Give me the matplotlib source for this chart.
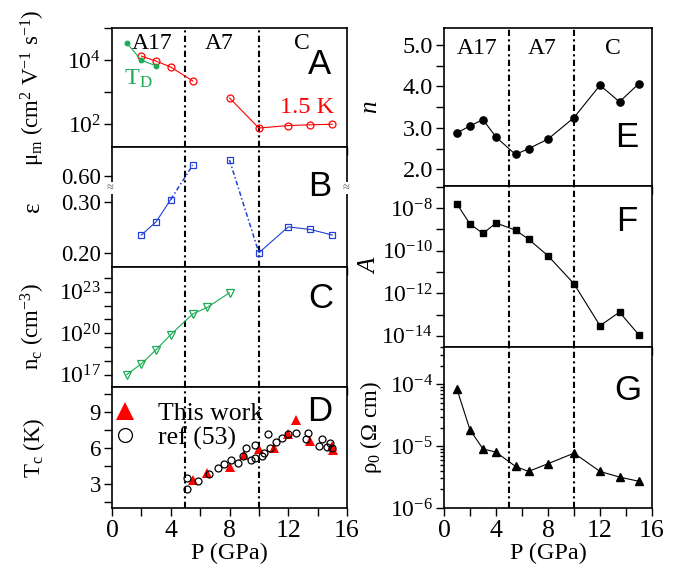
import numpy as np
import matplotlib
matplotlib.use('Agg')
import matplotlib.pyplot as plt
from matplotlib.ticker import FixedLocator, FuncFormatter, MultipleLocator, NullLocator, NullFormatter, LogLocator

plt.rcParams['font.family'] = 'serif'
plt.rcParams['font.serif'] = ['Liberation Serif', 'DejaVu Serif']
plt.rcParams['mathtext.fontset'] = 'custom'
plt.rcParams['mathtext.rm'] = 'Liberation Serif'
plt.rcParams['mathtext.it'] = 'Liberation Serif:italic'
plt.rcParams['mathtext.bf'] = 'Liberation Serif:bold'
plt.rcParams['axes.linewidth'] = 1.2

# ---- data ----
# A: mobility
mu_p = [2, 3, 4, 5.5, 8, 10, 12, 13.5, 15]
mu_15K = [13300, 9300, 6060, 2230, 660, 76, 91, 96, 100]
td_p = [1, 2, 3]
mu_TD = [34400, 9800, 6650]

# B: epsilon (broken axis)
eps_p = [2, 3, 4, 5.5, 8, 10, 12, 13.5, 15]
eps = [0.235, 0.261, 0.305, 0.621, 0.631, 0.200, 0.251, 0.246, 0.235]

# C: critical density
nc_p = [1, 2, 3, 4, 5.5, 6.5, 8]
nc = [1.0e17, 6.0e17, 6.3e18, 7.9e19, 2.5e21, 7.6e21, 8.5e22]

# D: Tc
tc_p = [5.5, 6.5, 8, 9, 10, 11, 12, 12.5, 13.5, 15, 15.05]
tc = [3.35, 3.9, 4.45, 5.4, 5.95, 6.0, 7.15, 8.35, 6.6, 6.2, 5.8]
ref_p = [5.13, 5.13, 5.88, 6.63, 7.24, 7.65, 8.08, 8.55, 8.94, 9.12, 9.44, 9.73, 9.73,
         10.19, 10.35, 10.64, 10.76, 11.16, 11.55, 12.0, 12.5, 13.18, 13.36, 14.09,
         14.27, 14.61, 14.84, 14.95]
ref_tc = [2.56, 3.53, 3.25, 3.81, 4.31, 4.67, 5.0, 4.75, 5.34, 6.03, 5.0, 5.15, 6.23,
          5.34, 5.61, 7.18, 5.97, 6.53, 6.81, 7.18, 7.29, 6.73, 7.29, 6.2,
          6.76, 6.12, 6.4, 5.97]

# E, F, G
r_p = [1, 2, 3, 4, 5.5, 6.5, 8, 10, 12, 13.5, 15]
n_exp = [2.88, 3.05, 3.2, 2.78, 2.36, 2.5, 2.73, 3.25, 4.03, 3.63, 4.07]
A_coef = [1.55e-8, 1.8e-9, 6.5e-10, 2.0e-9, 9.3e-10, 3.5e-10, 5.8e-11, 2.8e-12,
          3.0e-14, 1.3e-13, 1.1e-14]
rho0 = [8.3e-5, 1.83e-5, 9.0e-6, 8.0e-6, 4.7e-6, 3.9e-6, 5.2e-6, 7.7e-6, 3.9e-6,
        3.16e-6, 2.7e-6]

phase_p = [5, 10]
phase_names = ['A17', 'A7', 'C']

W, H = 682, 582
fig = plt.figure(figsize=(W / 100, H / 100), dpi=100)


def px_axes(left, top, right, bottom):
    return fig.add_axes([left / W, 1 - bottom / H, (right - left) / W, (bottom - top) / H])


def pow_fmt(shown):
    def f(v, pos):
        e = int(round(np.log10(v)))
        if e in shown:
            return r'$\mathrm{10^{%d}}$' % e
        return ''
    return FuncFormatter(f)


dashdot = (0, (3, 1.6, 1, 1.6))


def style(ax, bottom_labels, ysize):
    ax.set_xlim(0, 16)
    ax.xaxis.set_major_locator(MultipleLocator(4))
    ax.xaxis.set_minor_locator(MultipleLocator(2))
    ax.tick_params(which='both', direction='out', length=5.5, width=1.0,
                   top=False, right=False, labelfontfamily='Liberation Serif')
    ax.tick_params(axis='y', labelsize=ysize, pad=2.5)
    ax.tick_params(axis='x', labelsize=18.5, pad=3, labelbottom=bottom_labels)
    for p in phase_p:
        ax.axvline(p, color='black', lw=1.5, ls=dashdot, zorder=1)


def letter(ax, s, x, y):
    ax.text(x, y, s, transform=ax.transAxes, ha='center', va='center',
            fontsize=25, family='Liberation Sans')


red = '#ff0000'
green = '#1aab55'
blue = '#2040d8'
lw = 0.8

# ---------- A ----------
axA = px_axes(112, 28, 347, 147)
style(axA, False, 17)
axA.set_yscale('log')
axA.plot(mu_p[:4], mu_15K[:4], 'o-', color=red, mfc='none', ms=5, mew=0.9, lw=lw)
axA.plot(mu_p[4:], mu_15K[4:], 'o-', color=red, mfc='none', ms=5, mew=0.9, lw=lw)
axA.plot(td_p, mu_TD, 'o-', color=green, ms=3.2, lw=lw)
axA.set_ylim(19.5, 1e5)
axA.yaxis.set_major_locator(FixedLocator([1e2, 1e3, 1e4, 1e5]))
axA.yaxis.set_minor_locator(NullLocator())
axA.yaxis.set_major_formatter(pow_fmt([2, 4]))
axA.set_ylabel('μ$_\\mathrm{m}$ (cm$^\\mathrm{2}$ V$^\\mathrm{-1}$ s$^\\mathrm{-1}$)', fontsize=16.5)
axA.yaxis.set_label_coords(-0.275, 0.5)
for name, xf in zip(phase_names, [0.17, 0.455, 0.81]):
    axA.text(xf, 0.87, name, transform=axA.transAxes, ha='center', va='center', fontsize=17)
axA.text(0.11, 0.57, 'T$_\\mathrm{D}$', transform=axA.transAxes, ha='center', va='center',
         fontsize=17.5, color=green)
axA.text(0.83, 0.33, '1.5 K', transform=axA.transAxes, ha='center', va='center',
         fontsize=17.5, color=red)
letter(axA, 'A', 0.885, 0.69)

# ---------- B ----------
axB = px_axes(112, 147, 347, 267)
style(axB, False, 16.5)


def brk_fwd(v):
    v = np.asarray(v, dtype=float)
    return np.where(v > 0.45, v - 0.248, v)


def brk_inv(p):
    p = np.asarray(p, dtype=float)
    return np.where(p > 0.3276, p + 0.248, p)


axB.set_yscale('function', functions=(brk_fwd, brk_inv))
axB.plot(eps_p[:3], eps[:3], 's-', color=blue, mfc='none', ms=4.8, mew=0.9, lw=lw)
axB.plot(eps_p[2:4], eps[2:4], '-', color=blue, lw=1.1, ls=dashdot)
axB.plot(eps_p[3:5], eps[3:5], 's', color=blue, mfc='none', ms=4.8, mew=0.9)
axB.plot(eps_p[4:6], eps[4:6], '-', color=blue, lw=1.1, ls=dashdot)
axB.plot(eps_p[5:], eps[5:], 's-', color=blue, mfc='none', ms=4.8, mew=0.9, lw=lw)
axB.set_ylim(0.172, 0.6565)
axB.yaxis.set_major_locator(FixedLocator([0.20, 0.30, 0.60]))
axB.yaxis.set_minor_locator(NullLocator())
axB.yaxis.set_major_formatter(FuncFormatter(lambda v, pos: '%.2f' % v))
axB.set_ylabel('ε', fontsize=18)
axB.yaxis.set_label_coords(-0.29, 0.5)
for xf in [-0.01, 0.995]:
    axB.text(xf, 0.658, '≈', transform=axB.transAxes, ha='center', va='center',
             fontsize=9, color='0.35', clip_on=False,
             bbox=dict(fc='white', ec='none', pad=0.3))
letter(axB, 'B', 0.885, 0.67)

# ---------- C ----------
axC = px_axes(112, 267, 347, 387)
style(axC, False, 17)
axC.set_yscale('log')
axC.plot(nc_p, nc, 'v-', color=green, mfc='none', ms=5.2, mew=0.9, lw=lw)
axC.set_ylim(1.26e16, 6.3e24)
axC.yaxis.set_major_locator(FixedLocator([10.0 ** k for k in range(17, 25)]))
axC.yaxis.set_minor_locator(NullLocator())
axC.yaxis.set_major_formatter(pow_fmt([17, 20, 23]))
axC.set_ylabel('n$_\\mathrm{c}$ (cm$^\\mathrm{-3}$)', fontsize=16.5)
axC.yaxis.set_label_coords(-0.275, 0.5)
letter(axC, 'C', 0.89, 0.74)

# ---------- D ----------
axD = px_axes(112, 387, 347, 508)
style(axD, True, 16.5)
axD.plot(tc_p, tc, '^', color=red, ms=6.5, mew=0, label='This work')
axD.plot(ref_p, ref_tc, 'o', color='black', mfc='none', ms=5, mew=0.9, label='ref (53)')
axD.set_ylim(1.0, 11.1)
axD.yaxis.set_major_locator(FixedLocator([3, 6, 9]))
axD.yaxis.set_minor_locator(FixedLocator([1.5, 4.5, 7.5, 10.5]))
axD.set_ylabel('T$_\\mathrm{c}$ (K)', fontsize=16.5)
axD.yaxis.set_label_coords(-0.275, 0.5)
axD.set_xlabel('P (GPa)', fontsize=17.5, labelpad=1)
axD.legend(loc='upper left', bbox_to_anchor=(0.0, 0.877), frameon=False, fontsize=18.5,
           markerscale=2.0, handlelength=1.0, handletextpad=0.8, labelspacing=0.05,
           borderpad=0, borderaxespad=0)
letter(axD, 'D', 0.885, 0.80)

# ---------- E ----------
axE = px_axes(444, 28, 652, 186)
style(axE, False, 17.5)
axE.plot(r_p, n_exp, 'o-', color='black', ms=5.2, lw=lw)
axE.set_ylim(1.6, 5.41)
axE.yaxis.set_major_locator(FixedLocator([2, 3, 4, 5]))
axE.yaxis.set_minor_locator(FixedLocator([2.5, 3.5, 4.5]))
axE.yaxis.set_major_formatter(FuncFormatter(lambda v, pos: '%.1f' % v))
axE.set_ylabel('n', fontsize=18, style='italic')
axE.yaxis.set_label_coords(-0.30, 0.5)
for name, xf in zip(phase_names, [0.157, 0.47, 0.81]):
    axE.text(xf, 0.87, name, transform=axE.transAxes, ha='center', va='center', fontsize=17)
letter(axE, 'E', 0.878, 0.31)

# ---------- F ----------
axF = px_axes(444, 186, 652, 347)
style(axF, False, 17)
axF.set_yscale('log')
axF.plot(r_p, A_coef, 's-', color='black', ms=5, lw=lw)
axF.set_ylim(3.0e-15, 1.1e-7)
axF.yaxis.set_major_locator(FixedLocator([10.0 ** k for k in range(-14, -6)]))
axF.yaxis.set_minor_locator(NullLocator())
axF.yaxis.set_major_formatter(pow_fmt([-8, -10, -12, -14]))
axF.set_ylabel('A', fontsize=18, style='italic')
axF.yaxis.set_label_coords(-0.30, 0.5)
letter(axF, 'F', 0.878, 0.78)

# ---------- G ----------
axG = px_axes(444, 347, 652, 508)
style(axG, True, 17)
axG.set_yscale('log')
axG.plot(r_p, rho0, '^-', color='black', ms=5.2, lw=lw)
axG.set_ylim(1e-6, 4.0e-4)
axG.yaxis.set_major_locator(LogLocator(base=10))
axG.yaxis.set_minor_locator(LogLocator(base=10, subs=np.arange(2, 10)))
axG.yaxis.set_minor_formatter(NullFormatter())
axG.yaxis.set_major_formatter(pow_fmt([-6, -5, -4]))
axG.tick_params(axis='y', which='minor', length=3)
axG.set_ylabel('ρ$_\\mathrm{0}$ (Ω cm)', fontsize=16.5)
axG.yaxis.set_label_coords(-0.29, 0.5)
axG.set_xlabel('P (GPa)', fontsize=17.5, labelpad=1)
letter(axG, 'G', 0.886, 0.73)

fig.savefig('out.png', dpi=100)
